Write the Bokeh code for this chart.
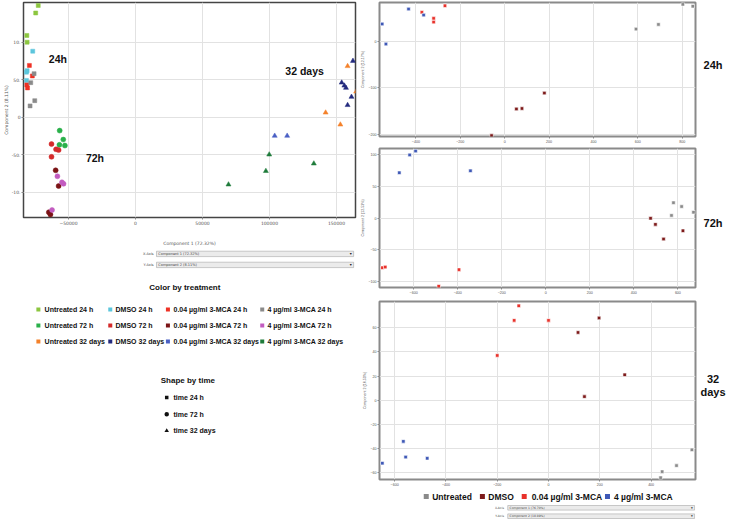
from bokeh.plotting import figure
from bokeh.layouts import row, column
from bokeh.models import Range1d, Label, FixedTicker, BasicTickFormatter
from bokeh.core.properties import value
from bokeh.embed import file_html
from bokeh.resources import INLINE

# ---------------- main PCA: Component 1 vs Component 2 ----------------
untreated_24h_x = [-72600, -74500, -81100, -80900]
untreated_24h_y = [149, 139, 109, 100]
dmso_24h_x = [-76700, -80900, -81400, -81400]
dmso_24h_y = [88, 62, 60, 49]
mca004_24h_x = [-79200, -77000, -81100, -80600]
mca004_24h_y = [69, 55, 43, 39]
mca4_24h_x = [-75700, -78200, -75200, -78700]
mca4_24h_y = [58, 46, 22, 15]
untreated_72h_x = [-56600, -53900, -56800, -52700]
untreated_72h_y = [-18, -30, -37, -38]
dmso_72h_x = [-62700, -59300, -57400, -62700]
dmso_72h_y = [-36, -43, -44, -53]
mca004_72h_x = [-59600, -57400, -64700, -63500]
mca004_72h_y = [-71, -92, -127, -130]
mca4_72h_x = [-58300, -54900, -53700, -62300]
mca4_72h_y = [-79, -87, -89, -124]
untreated_32d_x = [158300, 164700, 141900, 152900]
untreated_32d_y = [68, 34, 6, -10]
dmso_32d_x = [162300, 153900, 155900, 157100, 161200, 158300]
dmso_32d_y = [75, 46, 42, 39, 27, 16]
mca004_32d_x = [103900, 113200]
mca004_32d_y = [-25, -25]
mca4_32d_x = [69400, 97300, 99800, 133100]
mca4_32d_y = [-90, -72, -50, -62]

main_xticks = [-50000, 0, 50000, 100000, 150000]
main_yticks = [-100, -50, 0, 50, 100]
main_ytick_labels = ["-10.", "-50.", "0", "50.", "10."]

treatments = ["Untreated", "DMSO", "0.04 µg/ml 3-MCA", "4 µg/ml 3-MCA"]
times = ["24 h", "72 h", "32 days"]
main_colors = [["#8cc63f", "#5cc6dc", "#ee3124", "#8a8a8a"],
               ["#2ab04a", "#d42a2a", "#7b1416", "#c25cc0"],
               ["#f4812a", "#232a7e", "#4a60c4", "#1e7b3a"]]
time_markers = ["square", "circle", "triangle"]

# ---------------- per-time sub-PCAs ----------------
p24_untreated_x = [592, 693, 803, 848]
p24_untreated_y = [26, 36, 79, 75]
p24_dmso_x = [-59, 53, 78, 179]
p24_dmso_y = [-202, -145, -144, -111]
p24_mca004_x = [-373, -320, -320, -269]
p24_mca004_y = [62, 49, 41, 76]
p24_mca4_x = [-433, -365, -552, -535]
p24_mca4_y = [69, 56, 37, -6]

p72_untreated_x = [580, 571, 617, 671]
p72_untreated_y = [24, 4, 18, 9]
p72_dmso_x = [476, 498, 535, 623]
p72_dmso_y = [-0.5, -10, -33, -20]
p72_mca004_x = [-742, -729, -394, -486]
p72_mca004_y = [-78, -77, -81, -107]
p72_mca4_x = [-591, -618, -665, -342]
p72_mca4_y = [105, 99, 71, 74]

p32_untreated_x = [559, 499, 443, 437]
p32_untreated_y = [-41, -54, -59, -64]
p32_dmso_x = [197, 115, 297, 140]
p32_dmso_y = [68, 56, 21, 3]
p32_mca004_x = [-116, -134, 0, -200]
p32_mca004_y = [78, 66, 66, 37]
p32_mca4_x = [-566, -557, -473, -648]
p32_mca4_y = [-34, -47, -48, -52]

sub_colors = ["#8a8a8a", "#7d1a1a", "#e8312a", "#3e58b6"]
sub_legend = ["Untreated", "DMSO", "0.04 µg/ml 3-MCA", "4 µg/ml 3-MCA"]
time_tags = ["24h", "72h", "32", "days"]

BOLD = "Liberation Sans"
TICKF = "DejaVu Sans"
TICKF2 = "Liberation Sans"


def base_fig(w, h, xr, yr, bl, br, bt, bb):
    p = figure(width=w, height=h, x_range=Range1d(*xr), y_range=Range1d(*yr),
               output_backend="svg", toolbar_location=None, title=None,
               min_border_left=bl, min_border_right=br,
               min_border_top=bt, min_border_bottom=bb)
    p.background_fill_color = "white"
    p.border_fill_color = "white"
    return p


def canvas(w, h, xr, yr):
    c = figure(width=w, height=h, x_range=Range1d(*xr), y_range=Range1d(*yr),
               output_backend="svg", toolbar_location=None, title=None,
               x_axis_type=None, y_axis_type=None, min_border=0)
    c.outline_line_color = None
    c.background_fill_color = "white"
    c.border_fill_color = "white"
    return c


def style_axes(p, fs="4px", font=TICKF, outline="#555555", ow=1.5):
    p.outline_line_color = outline
    p.outline_line_width = ow
    for ax in list(p.xaxis) + list(p.yaxis):
        ax.axis_line_color = None
        ax.major_tick_in = 0
        ax.major_tick_out = 2
        ax.major_tick_line_color = "#888888"
        ax.minor_tick_line_color = None
        ax.major_label_text_font = font
        ax.major_label_text_font_size = fs
        ax.major_label_text_color = "#555555"
        ax.major_label_standoff = 1
        ax.axis_label_text_font = font
        ax.axis_label_text_font_size = fs
        ax.axis_label_text_font_style = "normal"
        ax.axis_label_text_color = "#555555"
        ax.axis_label_standoff = 0
    for ax in p.yaxis:
        ax.major_label_orientation = "horizontal"
    p.xgrid.grid_line_color = "#e2e2e2"
    p.ygrid.grid_line_color = "#e2e2e2"


# ---------------- main figure ----------------
main = base_fig(357, 248, (-83600, 164200), (-134, 153), 18, 2, 2, 28)
style_axes(main, fs="4.5px", outline="#444444", ow=1.5)
main.xaxis.ticker = FixedTicker(ticks=main_xticks)
main.xaxis.formatter = BasicTickFormatter(use_scientific=False)
main.yaxis.ticker = FixedTicker(ticks=main_yticks)
main.yaxis.major_label_overrides = {t: l for t, l in zip(main_yticks, main_ytick_labels)}
main.xaxis.axis_label = "Component 1 (72.32%)"
main.yaxis.axis_label = "Component 2 (8.11%)"
main.xaxis.axis_label_standoff = 13

main_series = [
    [(untreated_24h_x, untreated_24h_y), (dmso_24h_x, dmso_24h_y),
     (mca004_24h_x, mca004_24h_y), (mca4_24h_x, mca4_24h_y)],
    [(untreated_72h_x, untreated_72h_y), (dmso_72h_x, dmso_72h_y),
     (mca004_72h_x, mca004_72h_y), (mca4_72h_x, mca4_72h_y)],
    [(untreated_32d_x, untreated_32d_y), (dmso_32d_x, dmso_32d_y),
     (mca004_32d_x, mca004_32d_y), (mca4_32d_x, mca4_32d_y)],
]
marker_sizes = [4, 5, 5]
for ti, groups in enumerate(main_series):
    for gi, (xs, ys) in enumerate(groups):
        main.scatter(xs, ys, marker=time_markers[ti], size=marker_sizes[ti],
                     fill_color=main_colors[ti][gi], line_color=main_colors[ti][gi],
                     line_width=0.5)

for txt, x, y in [("24h", -64700, 77), ("72h", -37000, -54), ("32 days", 111800, 61)]:
    main.add_layout(Label(x=x, y=y, text=txt, text_font=BOLD, text_font_style="bold",
                          text_font_size="10.5px", text_baseline="middle", text_color="#111111"))

# ---------------- left canvas: selectors and legends ----------------
canL = canvas(357, 272, (0, 357), (520, 248))

for lab, comp, yc in [("X-Axis", "Component 1 (72.32%)", 253.4), ("Y-Axis", "Component 2 (8.11%)", 264.4)]:
    canL.quad(left=143, right=355, top=yc - 2.7, bottom=yc + 2.7, fill_color="#ebebeb",
              line_color="#a8a8a8", line_width=0.6)
    canL.text([140], [yc], text=[lab], text_font=value(TICKF), text_font_size="3.5px",
              text_align="right", text_baseline="middle", text_color="#444444")
    canL.text([145], [yc], text=[comp], text_font=value(TICKF), text_font_size="3.5px",
              text_baseline="middle", text_color="#444444")
    canL.text([353], [yc], text=["▾"], text_font=value(TICKF), text_font_size="4px",
              text_align="right", text_baseline="middle", text_color="#222222")

canL.text([173.5], [287], text=["Color by treatment"], text_font=value(BOLD),
          text_font_style="bold", text_font_size="8px", text_align="center",
          text_baseline="middle", text_color="#111111")
col_sw = [16, 93.3, 155.3, 256.7]
col_tx = [22.7, 99, 161.3, 262.3]
row_y = [309, 325, 341]
for ti, t in enumerate(times):
    for gi, tr in enumerate(treatments):
        canL.scatter([col_sw[gi]], [row_y[ti]], marker="square", size=4,
                     fill_color=main_colors[ti][gi], line_color=None)
        canL.text([col_tx[gi]], [row_y[ti]], text=[f"{tr} {t}"], text_font=value(BOLD),
                  text_font_style="bold", text_font_size="7px", text_baseline="middle",
                  text_color="#111111")

canL.text([176.7], [379.5], text=["Shape by time"], text_font=value(BOLD),
          text_font_style="bold", text_font_size="8px", text_align="center",
          text_baseline="middle", text_color="#111111")
shape_y = [397, 413.7, 430.3]
for ti, t in enumerate(times):
    canL.scatter([154], [shape_y[ti]], marker=time_markers[ti], size=[3.5, 4.5, 4.5][ti],
                 fill_color="#111111", line_color=None)
    canL.text([161.3], [shape_y[ti]], text=[f"time {t}"], text_font=value(BOLD),
              text_font_style="bold", text_font_size="7px", text_baseline="middle",
              text_color="#111111")


# ---------------- right panels ----------------
def sub_panel(h, xr, yr, bt, bb, xticks, yticks, ylabel, series):
    p = base_fig(340, h, xr, yr, 22, 2, bt, bb)
    style_axes(p, fs="3.6px", font=TICKF2, outline="#8a8a8a", ow=2)
    p.xaxis.ticker = FixedTicker(ticks=xticks)
    p.yaxis.ticker = FixedTicker(ticks=yticks)
    p.yaxis.axis_label = ylabel
    for gi, (xs, ys) in enumerate(series):
        p.scatter(xs, ys, marker="square", size=3.5, fill_color=sub_colors[gi],
                  line_color="white", line_width=0.6)
    return p


p24 = sub_panel(145, (-564, 860), (-204, 83), 2, 8,
                [-400, -200, 0, 200, 400, 600, 800], [-200, -100, 0],
                "Component 2 (12.17%)",
                [(p24_untreated_x, p24_untreated_y), (p24_dmso_x, p24_dmso_y),
                 (p24_mca004_x, p24_mca004_y), (p24_mca4_x, p24_mca4_y)])
p72 = sub_panel(151, (-755, 680), (-109, 109), 3, 8,
                [-600, -400, -200, 0, 200, 400, 600], [-100, -50, 0, 50, 100],
                "Component 2 (12.53%)",
                [(p72_untreated_x, p72_untreated_y), (p72_dmso_x, p72_dmso_y),
                 (p72_mca004_x, p72_mca004_y), (p72_mca4_x, p72_mca4_y)])
p32 = sub_panel(192, (-659, 573), (-65.5, 81.6), 5, 8,
                [-600, -400, -200, 0, 200, 400], [-60, -40, -20, 0, 20, 40, 60],
                "Component 2 (16.50%)",
                [(p32_untreated_x, p32_untreated_y), (p32_dmso_x, p32_dmso_y),
                 (p32_mca004_x, p32_mca004_y), (p32_mca4_x, p32_mca4_y)])

# ---------------- right canvas: legend + selectors ----------------
canR = canvas(340, 32, (357, 697), (520, 488))
leg_sw = [407.3, 467.7, 512.7, 602.3]
leg_tx = [413.7, 474, 520.7, 609.3]
for gi, lab in enumerate(sub_legend):
    canR.scatter([leg_sw[gi]], [496], marker="square", size=5,
                 fill_color=sub_colors[gi], line_color=None)
    canR.text([leg_tx[gi]], [496], text=[lab], text_font=value(BOLD), text_font_style="bold",
              text_font_size="8.5px", text_baseline="middle", text_color="#111111")
for lab, comp, yc in [("X-Axis", "Component 1 (76.70%)", 507.3), ("Y-Axis", "Component 2 (10.89%)", 515.7)]:
    canR.quad(left=495, right=696, top=yc - 2.3, bottom=yc + 2.3, fill_color="#ebebeb",
              line_color="#a8a8a8", line_width=0.6)
    canR.text([491], [yc], text=[lab], text_font=value(TICKF), text_font_size="3px",
              text_align="right", text_baseline="middle", text_color="#444444")
    canR.text([497], [yc], text=[comp], text_font=value(TICKF), text_font_size="3px",
              text_baseline="middle", text_color="#444444")
    canR.text([694], [yc], text=["▾"], text_font=value(TICKF), text_font_size="3.5px",
              text_align="right", text_baseline="middle", text_color="#222222")

# ---------------- time tags column ----------------
tags = canvas(32, 520, (697, 729), (520, 0))
tags.text([712.5, 712.5, 712.5, 712.5], [64, 222, 378, 391], text=time_tags,
          text_font=value(BOLD), text_font_style="bold", text_font_size="11px",
          text_align="center", text_baseline="middle", text_color="#111111")

layout = row(column(main, canL), column(p24, p72, p32, canR), tags)

open("out.html", "w").write(file_html(layout, INLINE))
